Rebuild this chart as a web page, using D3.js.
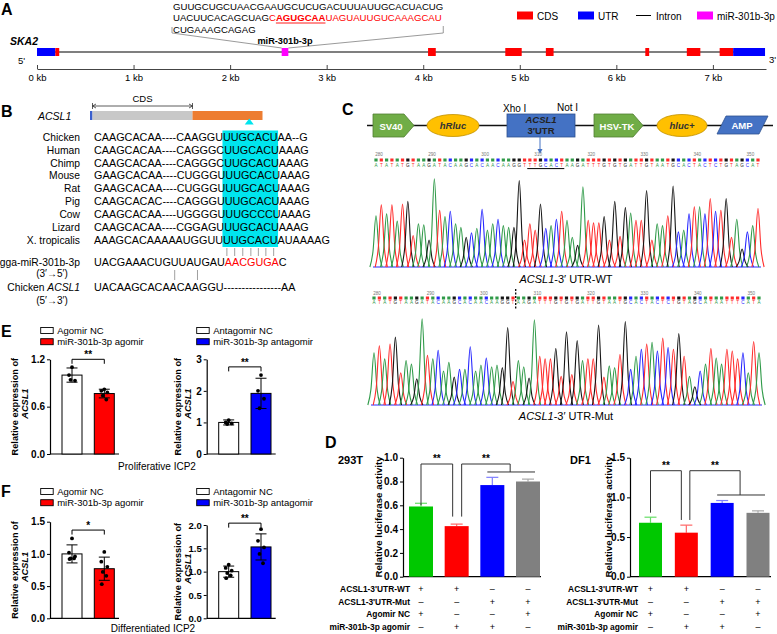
<!DOCTYPE html>
<html><head><meta charset="utf-8">
<script src="https://cdn.jsdelivr.net/npm/d3@7/dist/d3.min.js"></script>
<style>
html,body{margin:0;padding:0;background:#fff;}
svg text{font-family:"Liberation Sans",Arial,Helvetica,sans-serif;}
</style></head><body>
<svg id="fig" width="777" height="634" viewBox="0 0 777 634"></svg>
<script>
// ================= DATA =================
// Panel A – SKA2 gene model (kb)
const kbTicks = [0,1,2,3,4,5,6,7];
const ska2Features = [
  {type:"UTR", start:0.00, end:0.19},
  {type:"CDS", start:0.19, end:0.23},
  {type:"miR", start:2.534, end:2.603},
  {type:"CDS", start:4.05, end:4.13},
  {type:"CDS", start:4.85, end:5.02},
  {type:"CDS", start:5.27, end:5.35},
  {type:"CDS", start:6.30, end:6.34},
  {type:"CDS", start:6.73, end:6.87},
  {type:"CDS", start:7.07, end:7.21},
  {type:"UTR", start:7.21, end:7.54}
];
const featureColors = {CDS:"#ff0000", UTR:"#0000ff", miR:"#ff00ff"};
const legendA = [
  {label:"CDS", kind:"rect", color:"#ff0000"},
  {label:"UTR", kind:"rect", color:"#0000ff"},
  {label:"Intron", kind:"line", color:"#000"},
  {label:"miR-301b-3p", kind:"rect", color:"#ff00ff"}
];
const mirSiteLines = [
  [{t:"GUUGCUGCUAACGAAUGCUCUGACUUUAUUGCACUACUG", c:"#000"}],
  [{t:"UACUUCACAGCUAG", c:"#000"},{t:"C", c:"#ff0000"},{t:"AGUGCAA", c:"#ff0000", b:true},{t:"UAGUAUUGUCAAAGCAU", c:"#ff0000"}],
  [{t:"CUGAAAGCAGAG", c:"#000"}]
];
// Panel B – conservation
const species = ["Chicken","Human","Chimp","Mouse","Rat","Pig","Cow","Lizard","X. tropicalis"];
const speciesSeqs = [
  "CAAGCACAA----CAAGGUUUGCACUAA--G",
  "CAAGCACAA----CAGGGCUUGCACUAAAG",
  "CAAGCACAA----CAGGGCUUGCACUAAAG",
  "GAAGCACAA----CUGGGUUUGCACUAAAG",
  "GAAGCACAA----CUGGGUUUGCACUAAAG",
  "CAAGCACAC----CAGGGUUUGCACUAAAG",
  "CAAGCACAA----UGGGGUUUGCCCUAAAG",
  "CAAGCACAA----CGGAGUUUGCACUAAAG",
  "AAAGCACAAAAAUGGUUUUGCACUAUAAAAG"
];
const mirSeqParts = [{t:"UACGAAACUGUUAUGAU", c:"#000"},{t:"AACGUGA", c:"#ff0000"},{t:"C", c:"#000"}];
const chickenAcsl1Seq = "UACAAGCACAACAAGGU----------------AA";
// Panel C – sequencing traces
const traceTicks = [280,290,300,310,320,330,340,350];
const wtSeq  = "ATATATGTAAGATACAAGCACAACAAGGTTTGCACTAAGATTTGTGTGATTGTAATGCACTACTCTGTAGCAT";
const wtPeaks = [0.57,0.69,0.59,0.69,0.51,0.70,0.73,0.35,0.48,0.47,0.30,0.98,0.63,0.56,0.62,0.48,0.44,0.33,0.38,0.43,
  0.64,0.41,0.48,0.53,0.46,0.44,0.44,0.96,0.30,0.48,0.41,0.70,0.43,0.46,0.53,0.62,0.52,0.33,0.24,0.89,
  0.52,0.49,0.49,0.56,0.30,0.73,0.34,0.66,0.60,0.52,0.52,0.85,0.30,0.48,0.46,0.57,0.90,0.39,0.41,0.59,
  0.67,0.67,0.59,0.76,0.62,0.63,0.76,0.33,0.53,0.20,0.39,0.46,0.65];
const mutSeq = "ATATGTAAGATACAAGCACAACAAGGTAAGATTTGTGTGATTGTAATGCACTACTCTGTAGCATAATTTCATA";
const mutPeaks = [0.60,0.68,0.53,0.70,0.78,0.37,0.51,0.47,0.30,0.99,0.57,0.53,0.63,0.39,0.49,0.32,0.41,0.41,0.67,0.39,
  0.46,0.54,0.44,0.46,0.43,0.89,0.27,0.51,0.44,0.31,0.98,0.56,0.53,0.53,0.65,0.33,0.84,0.35,0.74,0.51,
  0.53,0.53,0.92,0.32,0.45,0.43,0.58,0.96,0.41,0.56,0.64,0.70,0.72,0.62,0.77,0.66,0.64,0.82,0.56,0.33,
  0.21,0.39,0.47,0.65,0.54,0.47,0.64,0.62,0.53,0.60,0.37,0.73,0.60];
const baseColors = {A:"#2f9a48", C:"#2626ff", G:"#151515", T:"#ff2b2b"};
// Panel D – luciferase
const lucGroups = ["WT+NC","WT+agomir","Mut+agomir","Mut+NC"];
const lucColors = ["#00c800","#ff0000","#0000ff","#808080"];
const lucErrColors = ["#66dd66","#ff6666","#7f7fff","#a8a8a8"];
const lucRowLabels = ["ACSL1-3'UTR-WT","ACSL1-3'UTR-Mut","Agomir NC","miR-301b-3p agomir"];
const lucDesign = [["+","+","–","–"],["–","–","+","+"],["+","–","–","+"],["–","+","+","–"]];
const luc293Mean = [0.59,0.425,0.77,0.80];
const luc293Sd   = [0.027,0.017,0.065,0.02];
const luc293Ticks = [0,0.2,0.4,0.6,0.8,1.0];
const luc293Sig = {top:0.947, leftLeg:0.60, midLeg:0.505, groupLevel:0.88};
const lucDF1Mean = [0.68,0.555,0.93,0.805];
const lucDF1Sd   = [0.07,0.095,0.03,0.025];
const lucDF1Ticks = [0,0.5,1.0,1.5];
const lucDF1Sig = {top:1.336, leftLeg:0.807, midLeg:0.715, groupLevel:1.03};
// Panels E / F – qPCR
const agoGroups = ["Agomir NC","miR-301b-3p agomir"];
const antGroups = ["Antagomir NC","miR-301b-3p antagomir"];
const agoColors = ["#ffffff","#ff0000"];
const antColors = ["#ffffff","#0000ff"];
const eAgoMean = [1.0,0.766], eAgoSd = [0.09,0.055];
const eAgoDots = [[1.10,1.00,0.93,0.94],[0.82,0.80,0.78,0.74,0.69]];
const eAgoTicks = [0,0.6,1.2];
const eAntMean = [1.0,1.92], eAntSd = [0.08,0.48];
const eAntDots = [[1.07,1.00,0.97,0.95],[2.5,2.0,1.75,1.45]];
const eAntTicks = [0,1,2,3];
const fAgoMean = [1.0,0.77], fAgoSd = [0.14,0.18];
const fAgoDots = [[1.24,1.02,0.96,0.93,0.93,0.92],[1.03,0.88,0.80,0.72,0.66,0.53]];
const fAgoTicks = [0,0.5,1.0,1.5];
const fAntMean = [1.0,1.53], fAntSd = [0.12,0.28];
const fAntDots = [[1.15,1.08,1.02,0.97,0.92,0.86],[1.91,1.66,1.52,1.38,1.18]];
const fAntTicks = [0,0.5,1.0,1.5,2.0];

// ================= DRAW =================
const FONT = '"Liberation Sans", Arial, Helvetica, sans-serif';
const svg = d3.select("#fig");
function T(p,x,y,s,o={}){
  const t = p.append("text").attr("x",x).attr("y",y).text(s)
    .attr("font-size",o.size||10).attr("fill",o.fill||"#000");
  if(o.bold) t.attr("font-weight","bold");
  if(o.italic) t.attr("font-style","italic");
  if(o.anchor) t.attr("text-anchor",o.anchor);
  return t;
}
function styleAxis(g,size,bold){
  g.attr("font-family",FONT);
  g.selectAll("text").attr("font-size",size).attr("fill","#000").attr("font-weight",bold?"bold":null);
  g.selectAll("line,path").attr("stroke","#000");
}

// ---- Panel letters
[["A",1,15],["B",1,117],["C",342,115],["D",325,448],["E",1,337],["F",1,497]]
  .forEach(d=>T(svg,d[1],d[2],d[0],{size:16,bold:1}));

// ---- Panel A
(function(){
  const g = svg.append("g");
  const xKb = d3.scaleLinear().domain([0,7.55]).range([37,766]);
  const seqY = [10,21,32.5];
  const nodes = [];
  mirSiteLines.forEach((parts,i)=>{
    const t = g.append("text").attr("x",173).attr("y",seqY[i]).attr("font-size",9.6);
    parts.forEach(p=>{const s=t.append("tspan").text(p.t).attr("fill",p.c); if(p.b) s.attr("font-weight","bold");});
    nodes.push(t.node());
  });
  const n2 = nodes[1];
  const u0 = n2.getStartPositionOfChar(15).x, u1 = n2.getEndPositionOfChar(21).x;
  g.append("line").attr("x1",u0).attr("x2",u1).attr("y1",23).attr("y2",23).attr("stroke","#ff0000").attr("stroke-width",0.9);
  const lineEnd = 173 + nodes[0].getComputedTextLength();
  const mir = ska2Features.find(f=>f.type==="miR");
  g.append("path").attr("d",`M172,27V33L${xKb(mir.start)},48`).attr("fill","none").attr("stroke","#808080").attr("stroke-width",0.8);
  g.append("path").attr("d",`M${lineEnd},26V33L${xKb(mir.end)},48`).attr("fill","none").attr("stroke","#808080").attr("stroke-width",0.8);
  T(g,(xKb(mir.start)+xKb(mir.end))/2,44,"miR-301b-3p",{size:9.2,bold:1,anchor:"middle"});
  T(g,10,45,"SKA2",{size:10.5,bold:1,italic:1});
  T(g,18,64,"5'",{size:9.5});
  T(g,769,63,"3'",{size:9.5});
  g.append("line").attr("x1",xKb(0)).attr("x2",xKb(7.54)).attr("y1",52).attr("y2",52).attr("stroke","#555").attr("stroke-width",1.3);
  g.selectAll("rect.feat").data(ska2Features).enter().append("rect")
    .attr("x",d=>xKb(d.start)).attr("width",d=>xKb(d.end)-xKb(d.start))
    .attr("y",48).attr("height",8).attr("fill",d=>featureColors[d.type]);
  const ax = g.append("g").attr("transform","translate(0,69)")
    .call(d3.axisBottom(xKb).tickValues(kbTicks).tickFormat(d=>d+" kb").tickSizeInner(-4).tickSizeOuter(0).tickPadding(5));
  styleAxis(ax,9.5,false);
  ax.selectAll("line,path").attr("stroke","#444");
  const lx = [517,578,636,697];
  legendA.forEach((d,i)=>{
    if(d.kind==="rect") g.append("rect").attr("x",lx[i]).attr("y",11.5).attr("width",16).attr("height",8).attr("fill",d.color);
    else g.append("line").attr("x1",lx[i]).attr("x2",lx[i]+15).attr("y1",15.5).attr("y2",15.5).attr("stroke","#000").attr("stroke-width",1);
    T(g,lx[i]+20,19.5,d.label,{size:10});
  });
})();

// ---- Panel B
(function(){
  const g = svg.append("g");
  const bg = g.append("g");
  T(g,38,120,"ACSL1",{size:10.5,italic:1});
  g.append("rect").attr("x",90).attr("y",111).attr("width",2.5).attr("height",9).attr("fill","#3a5fcd");
  g.append("rect").attr("x",92.5).attr("y",111).attr("width",100).attr("height",9).attr("fill","#c8c8c8");
  g.append("rect").attr("x",192.5).attr("y",111).attr("width",70).attr("height",9).attr("fill","#ed7d31");
  g.append("line").attr("x1",92.5).attr("x2",192.5).attr("y1",106).attr("y2",106).attr("stroke","#333").attr("stroke-width",0.8);
  g.append("path").attr("d","M92.5,103V109M192.5,103V109M96,104L92.5,106L96,108M189,104L192.5,106L189,108").attr("fill","none").attr("stroke","#333").attr("stroke-width",0.8);
  T(g,142.5,102,"CDS",{size:9.5,anchor:"middle"});
  const rowY = i => 140.7 + i*12.9;
  const seqNodes = [];
  species.forEach((s,i)=>{
    T(g,80,rowY(i),s,{size:10.3,anchor:"end"});
    seqNodes.push(T(g,94,rowY(i),speciesSeqs[i],{size:10.8}).node());
  });
  const c0 = seqNodes[0].getStartPositionOfChar(19).x, c1 = seqNodes[0].getEndPositionOfChar(25).x;
  bg.append("rect").attr("x",c0-0.5).attr("y",130.5).attr("width",c1-c0+1).attr("height",116.5).attr("fill","#00e5ee");
  const tx = (c0+c1)/2 - 1;
  g.append("path").attr("d",`M${tx},118.5L${tx+4.5},124.5L${tx-4.5},124.5Z`).attr("fill","#00e5ee");
  for(let k=0;k<7;k++){
    const a = seqNodes[0].getStartPositionOfChar(19+k).x, b = seqNodes[0].getEndPositionOfChar(19+k).x;
    g.append("line").attr("x1",(a+b)/2).attr("x2",(a+b)/2).attr("y1",248).attr("y2",256).attr("stroke","#888").attr("stroke-width",0.8);
  }
  T(g,80,266,"gga-miR-301b-3p",{size:10.3,anchor:"end"});
  T(g,52,276.5,"(3′→5′)",{size:10,anchor:"middle"});
  const mt = g.append("text").attr("x",94).attr("y",266).attr("font-size",10.8);
  mirSeqParts.forEach(p=>mt.append("tspan").text(p.t).attr("fill",p.c));
  [10,13].forEach(k=>{
    const n = mt.node();
    const cx = (n.getStartPositionOfChar(k).x + n.getEndPositionOfChar(k).x)/2;
    g.append("line").attr("x1",cx).attr("x2",cx).attr("y1",270).attr("y2",280).attr("stroke","#888").attr("stroke-width",0.8);
  });
  const ct = g.append("text").attr("x",80).attr("y",291).attr("font-size",10.3).attr("text-anchor","end");
  ct.append("tspan").text("Chicken ");
  ct.append("tspan").text("ACSL1").attr("font-style","italic");
  T(g,52,304,"(5′→3′)",{size:10,anchor:"middle"});
  T(g,94,291,chickenAcsl1Seq,{size:10.8});
})();

// ---- Panel C: vector map
(function(){
  const g = svg.append("g");
  g.append("line").attr("x1",367).attr("x2",773).attr("y1",125.5).attr("y2",125.5).attr("stroke","#111").attr("stroke-width",1.5);
  const green="#70ad47", gStroke="#507e32";
  g.append("path").attr("d","M373,114H404L414,125.5L404,137H373Z").attr("fill",green).attr("stroke",gStroke).attr("stroke-width",0.8);
  T(g,391,129.5,"SV40",{size:9.5,bold:1,fill:"#fff",anchor:"middle"});
  g.append("ellipse").attr("cx",453).attr("cy",125.5).attr("rx",26).attr("ry",11).attr("fill","#ffc000").attr("stroke","#c09000").attr("stroke-width",0.8);
  T(g,453,129,"hRluc",{size:9.5,bold:1,italic:1,fill:"#333",anchor:"middle"});
  g.append("rect").attr("x",507).attr("y",114).attr("width",68).attr("height",23).attr("fill","#4472c4").attr("stroke","#2f528f").attr("stroke-width",0.8);
  T(g,541,122.5,"ACSL1",{size:9.5,bold:1,italic:1,fill:"#222",anchor:"middle"});
  T(g,541,133.5,"3′UTR",{size:9.5,bold:1,fill:"#222",anchor:"middle"});
  T(g,503,111.5,"Xho I",{size:10});
  T(g,557,110.5,"Not I",{size:10});
  g.append("line").attr("x1",540).attr("x2",540).attr("y1",137).attr("y2",150).attr("stroke","#4472c4").attr("stroke-width",1);
  g.append("path").attr("d","M537.5,149L540,154L542.5,149Z").attr("fill","#4472c4");
  g.append("path").attr("d","M594,114H633L643,125.5L633,137H594Z").attr("fill",green).attr("stroke",gStroke).attr("stroke-width",0.8);
  T(g,617,129.5,"HSV-TK",{size:9.5,bold:1,fill:"#fff",anchor:"middle"});
  g.append("ellipse").attr("cx",682).attr("cy",125.5).attr("rx",25).attr("ry",11).attr("fill","#ffc000").attr("stroke","#c09000").attr("stroke-width",0.8);
  T(g,682,129,"hluc+",{size:9.5,bold:1,italic:1,fill:"#333",anchor:"middle"});
  g.append("path").attr("d","M726,116H768L759,134H717Z").attr("fill","#4472c4").attr("stroke","#2f528f").attr("stroke-width",0.8);
  T(g,742,129,"AMP",{size:9.5,bold:1,fill:"#fff",anchor:"middle"});
})();

// ---- Panel C: traces
function drawTrace(cfg){
  const g = svg.append("g");
  const n = cfg.seq.length;
  const xB = d3.scaleLinear().domain([0,n-1]).range([cfg.x0,cfg.x1]);
  const step = xB(1)-xB(0);
  const yP = d3.scaleLinear().domain([0,1]).range([cfg.base,cfg.base-cfg.h]);
  traceTicks.forEach(t=>T(g,xB(t-280)+3,cfg.numY,String(t),{size:4.6,fill:"#777",anchor:"middle"}));
  cfg.seq.split("").forEach((b,i)=>{
    g.append("rect").attr("x",xB(i)-1.6).attr("y",cfg.sqY).attr("width",3.2).attr("height",3).attr("fill",baseColors[b]);
    T(g,xB(i),cfg.letY,b,{size:4.6,fill:baseColors[b],anchor:"middle"});
  });
  g.append("line").attr("x1",cfg.x0-3).attr("x2",cfg.x1+3).attr("y1",cfg.base).attr("y2",cfg.base).attr("stroke","#2a2aff").attr("stroke-width",1.2);
  const pl = d3.line().curve(d3.curveMonotoneX);
  const w = step*1.15;
  cfg.seq.split("").forEach((b,i)=>{
    const cx = xB(i), h = cfg.peaks[i];
    const pts = [[cx-w,yP(0)],[cx-w*0.5,yP(h*0.3)],[cx,yP(h)],[cx+w*0.5,yP(h*0.3)],[cx+w,yP(0)]];
    g.append("path").attr("d",pl(pts)).attr("fill","none").attr("stroke",baseColors[b]).attr("stroke-width",1.1);
  });
  const cap = g.append("text").attr("x",566).attr("y",cfg.capY).attr("font-size",11).attr("text-anchor","middle");
  cap.append("tspan").text("ACSL1").attr("font-style","italic");
  cap.append("tspan").text("-3′ UTR-"+cfg.label);
  return {g,xB};
}
(function(){
  const wt = drawTrace({seq:wtSeq,peaks:wtPeaks,x0:376,x1:758,base:267,h:90,numY:156,sqY:158.5,letY:166.5,capY:283,label:"WT"});
  wt.g.append("line").attr("x1",wt.xB(29)-2.6).attr("x2",wt.xB(35)+2.6).attr("y1",168.6).attr("y2",168.6).attr("stroke","#000").attr("stroke-width",1);
  const mt = drawTrace({seq:mutSeq,peaks:mutPeaks,x0:374,x1:759,base:405,h:87,numY:295,sqY:296.5,letY:304,capY:419.5,label:"Mut"});
  mt.g.append("line").attr("x1",mt.xB(26.5)).attr("x2",mt.xB(26.5)).attr("y1",289).attr("y2",310).attr("stroke","#000").attr("stroke-width",1.3).attr("stroke-dasharray","2,1.5");
})();

// ---- Panel D
function drawLuc(cfg){
  const g = svg.append("g");
  const y = d3.scaleLinear().domain([0,cfg.max]).range([576.7,457.7]);
  const x = d3.scalePoint().domain(d3.range(lucGroups.length)).range(cfg.xr);
  const ax = g.append("g").attr("transform",`translate(${cfg.axisX},0)`)
    .call(d3.axisLeft(y).tickValues(cfg.ticks).tickFormat(d3.format(".1f")).tickSizeInner(3).tickSizeOuter(0).tickPadding(2));
  styleAxis(ax,10,true);
  ax.select("path").attr("stroke-width",1.2);
  g.append("line").attr("x1",cfg.axisX).attr("x2",cfg.xEnd).attr("y1",576.7).attr("y2",576.7).attr("stroke","#000").attr("stroke-width",1.2);
  const bw = cfg.bw;
  cfg.mean.forEach((v,i)=>{
    g.append("line").attr("x1",x(i)).attr("x2",x(i)).attr("y1",y(v)).attr("y2",y(v+cfg.sd[i])).attr("stroke",lucErrColors[i]).attr("stroke-width",1.2);
    g.append("line").attr("x1",x(i)-6).attr("x2",x(i)+6).attr("y1",y(v+cfg.sd[i])).attr("y2",y(v+cfg.sd[i])).attr("stroke",lucErrColors[i]).attr("stroke-width",1.2);
    g.append("rect").attr("x",x(i)-bw/2).attr("y",y(v)).attr("width",bw).attr("height",576.7-y(v)).attr("fill",lucColors[i]);
  });
  const s = cfg.sig, mid23 = (x(2)+x(3))/2;
  const L1 = x(1)-cfg.legOff[0], L2 = x(1)+cfg.legOff[1];
  g.append("path").attr("d",`M${x(0)},${y(s.leftLeg)}V${y(s.top)}H${L1}V${y(s.midLeg)}`).attr("fill","none").attr("stroke","#333").attr("stroke-width",1);
  g.append("path").attr("d",`M${L2},${y(s.midLeg)}V${y(s.top)}H${mid23}V${y(s.groupLevel)}M${x(2)-5},${y(s.groupLevel)}H${x(3)+7}`).attr("fill","none").attr("stroke","#333").attr("stroke-width",1);
  T(g,(x(0)+L1)/2,y(s.top)-2,"**",{size:10,bold:1,anchor:"middle"});
  T(g,(L2+mid23)/2,y(s.top)-2,"**",{size:10,bold:1,anchor:"middle"});
  T(g,cfg.titleX,463.5,cfg.title,{size:11,bold:1});
  T(g,0,0,"Relative luciferase activity",{size:9.7,bold:1,anchor:"middle"})
    .attr("transform",`translate(${cfg.labX},517) rotate(-90)`);
  lucRowLabels.forEach((r,k)=>{
    const yy = 591.7 + k*12.8;
    T(g,cfg.rowLabX,yy,r,{size:8.4,bold:1,anchor:"end"});
    lucDesign[k].forEach((sym,i)=>T(g,x(i),yy,sym,{size:9,anchor:"middle"}));
  });
}
drawLuc({max:1.0,ticks:luc293Ticks,mean:luc293Mean,sd:luc293Sd,sig:luc293Sig,axisX:403,xr:[421,528],xEnd:541,bw:24,
  legOff:[4,5],title:"293T",titleX:338,labX:382,rowLabX:410});
drawLuc({max:1.5,ticks:lucDF1Ticks,mean:lucDF1Mean,sd:lucDF1Sd,sig:lucDF1Sig,axisX:630,xr:[650.5,758],xEnd:771,bw:23,
  legOff:[5,3.5],title:"DF1",titleX:570,labX:612,rowLabX:638});

// ---- Panels E / F
function drawExpr(cfg){
  const g = svg.append("g");
  const y = d3.scaleLinear().domain([0,cfg.max]).range([cfg.y0,cfg.y1]);
  const x = d3.scalePoint().domain([0,1]).range([cfg.axisX+22,cfg.axisX+54.3]);
  const ax = g.append("g").attr("transform",`translate(${cfg.axisX},0)`)
    .call(d3.axisLeft(y).tickValues(cfg.ticks).tickFormat(cfg.fmt).tickSizeInner(3).tickSizeOuter(0).tickPadding(2));
  styleAxis(ax,cfg.tickSize||10,true);
  ax.select("path").attr("stroke-width",1.2);
  g.append("line").attr("x1",cfg.axisX).attr("x2",cfg.axisX+69).attr("y1",cfg.y0).attr("y2",cfg.y0).attr("stroke","#000").attr("stroke-width",1.2);
  const jit = [0,-3,3,-1.5,2,-2.5];
  cfg.mean.forEach((v,i)=>{
    g.append("rect").attr("x",x(i)-10).attr("y",y(v)).attr("width",20).attr("height",cfg.y0-y(v))
      .attr("fill",cfg.colors[i]).attr("stroke","#000").attr("stroke-width",1);
    const hi=y(v+cfg.sd[i]), lo=y(v-cfg.sd[i]);
    g.append("path").attr("d",`M${x(i)},${lo}V${hi}M${x(i)-5.5},${hi}H${x(i)+5.5}M${x(i)-5.5},${lo}H${x(i)+5.5}`)
      .attr("fill","none").attr("stroke","#000").attr("stroke-width",1);
    cfg.dots[i].forEach((d,k)=>g.append("circle").attr("cx",x(i)+jit[k%jit.length]).attr("cy",y(d)).attr("r",1.9).attr("fill","#000"));
  });
  const ys = y(cfg.sigLevel);
  g.append("path").attr("d",`M${x(0)},${ys+4.5}V${ys}H${x(1)}V${ys+4.5}`).attr("fill","none").attr("stroke","#000").attr("stroke-width",1);
  T(g,(x(0)+x(1))/2,ys-1,cfg.star,{size:10,bold:1,anchor:"middle"});
  const cy = (cfg.y0+cfg.y1)/2;
  T(g,0,0,"Relative expression of",{size:9.2,bold:1,anchor:"middle"}).attr("transform",`translate(${cfg.labX},${cy}) rotate(-90)`);
  T(g,0,0,"ACSL1",{size:9.2,bold:1,italic:1,anchor:"middle"}).attr("transform",`translate(${cfg.labX+10},${cy-3}) rotate(-90)`);
  cfg.groups.forEach((name,i)=>{
    const yy = cfg.legY + i*11.2;
    g.append("rect").attr("x",cfg.legX).attr("y",yy-6).attr("width",12.5).attr("height",6).attr("fill",cfg.colors[i]).attr("stroke","#000").attr("stroke-width",0.9);
    T(g,cfg.legX+16.5,yy,name,{size:9.5});
  });
}
const f1 = d3.format(".1f"), f0 = d3.format("d");
drawExpr({max:1.2,ticks:eAgoTicks,fmt:f1,mean:eAgoMean,sd:eAgoSd,dots:eAgoDots,colors:agoColors,groups:agoGroups,
  axisX:50,y0:454,y1:359.3,sigLevel:1.2,star:"**",labX:17.5,legX:40.7,legY:333.5});
drawExpr({max:3,ticks:eAntTicks,fmt:f0,mean:eAntMean,sd:eAntSd,dots:eAntDots,colors:antColors,groups:antGroups,
  axisX:206.7,y0:454,y1:359.3,sigLevel:2.76,star:"**",labX:180.5,legX:196.7,legY:333.5});
drawExpr({max:1.5,ticks:fAgoTicks,fmt:f1,mean:fAgoMean,sd:fAgoSd,dots:fAgoDots,colors:agoColors,groups:agoGroups,
  axisX:50,y0:618.3,y1:521.7,sigLevel:1.37,star:"*",labX:17.5,legX:40.7,legY:494.5});
drawExpr({max:2.0,ticks:fAntTicks,fmt:f1,mean:fAntMean,sd:fAntSd,dots:fAntDots,colors:antColors,groups:antGroups,
  axisX:206.7,y0:618.3,y1:525,sigLevel:2.04,star:"**",labX:180.5,legX:196.7,legY:494.5,tickSize:9.5});
T(svg,157,470,"Proliferative ICP2",{size:10,anchor:"middle"});
T(svg,153,632,"Differentiated ICP2",{size:10,anchor:"middle"});
</script></body></html>
